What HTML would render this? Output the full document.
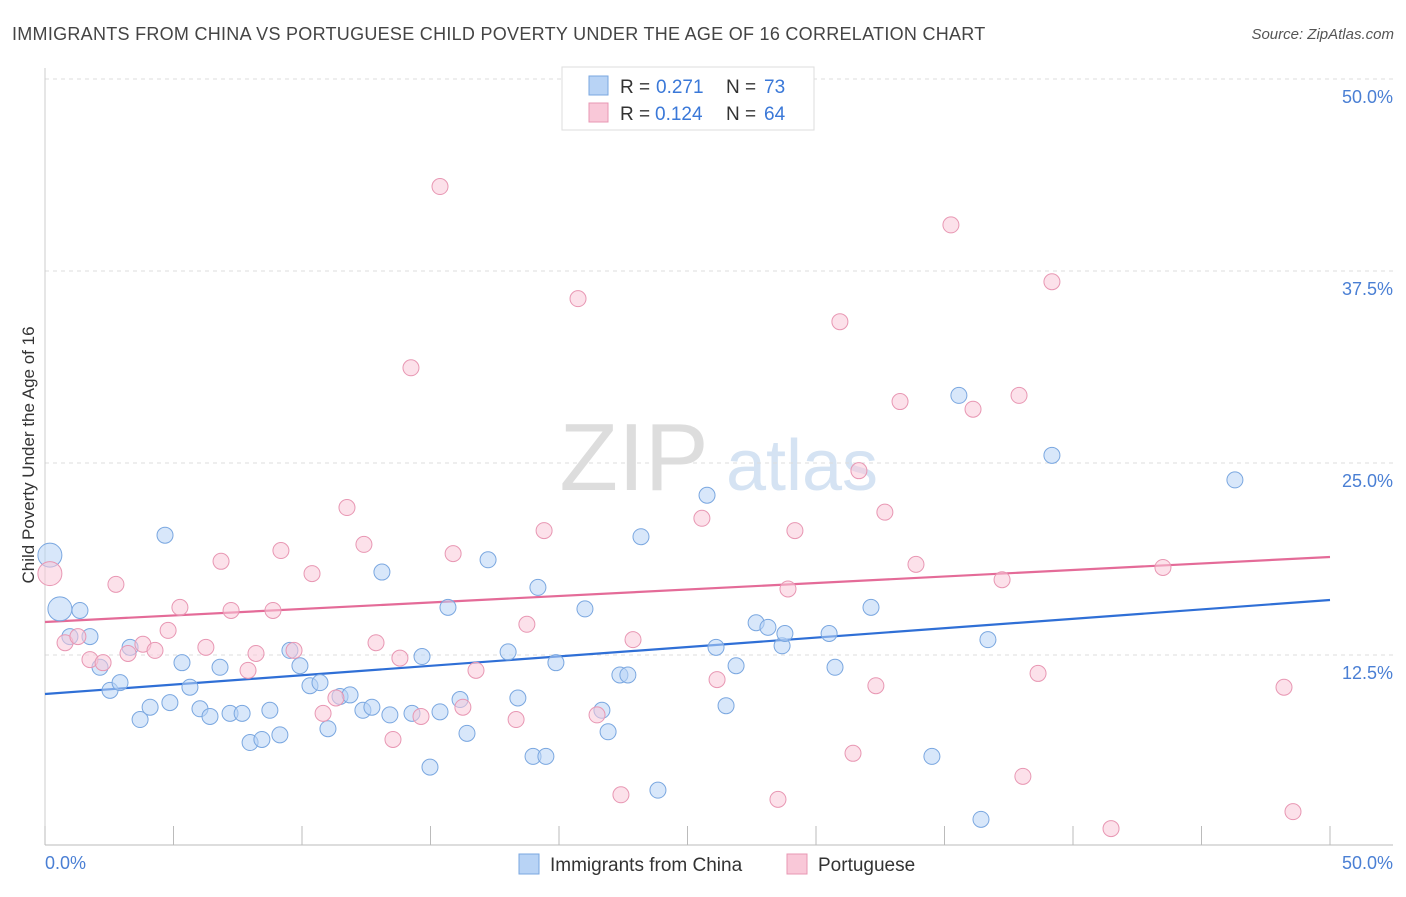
<!DOCTYPE html>
<html><head><meta charset="utf-8"><style>
body{margin:0;background:#fff;font-family:"Liberation Sans",sans-serif;}
svg text{font-family:"Liberation Sans",sans-serif;}
</style></head><body>
<svg id="chart" width="1406" height="892" xmlns="http://www.w3.org/2000/svg">
<text x="12" y="40" font-size="18" fill="#444" letter-spacing="0.28">IMMIGRANTS FROM CHINA VS PORTUGUESE CHILD POVERTY UNDER THE AGE OF 16 CORRELATION CHART</text>
<text x="1394" y="39" font-size="15" fill="#555" font-style="italic" text-anchor="end">Source: ZipAtlas.com</text>
<g>
<text x="634" y="490" font-size="96" fill="#ddd" font-family="Liberation Serif" text-anchor="middle">ZIP</text>
<text x="802" y="490" font-size="72" fill="#d5e3f3" text-anchor="middle">atlas</text>
</g>
<g id="grid"></g>
<g id="axes"></g>
<g id="trends"></g>
<g id="points"></g>
<text transform="translate(34,455) rotate(-90)" font-size="17" fill="#333" text-anchor="middle">Child Poverty Under the Age of 16</text>
<text x="45" y="869" font-size="18" fill="#4a7fd4">0.0%</text>
<text x="1393" y="869" font-size="18" fill="#4a7fd4" text-anchor="end">50.0%</text>
<g>
<rect x="562" y="67" width="252" height="63" fill="#fff" stroke="#ddd"/>
<rect x="589" y="76" width="19" height="19" fill="#b8d3f5" stroke="#7aa7e0"/>
<rect x="589" y="103" width="19" height="19" fill="#f9c8d8" stroke="#e897b3"/>
<text x="620" y="93" font-size="19" fill="#333">R =</text>
<text x="656" y="93" font-size="19" fill="#3a78d8">0.271</text>
<text x="726" y="93" font-size="19" fill="#333">N =</text>
<text x="764" y="93" font-size="19" fill="#3a78d8">73</text>
<text x="620" y="120" font-size="19" fill="#333">R =</text>
<text x="655" y="120" font-size="19" fill="#3a78d8">0.124</text>
<text x="726" y="120" font-size="19" fill="#333">N =</text>
<text x="764" y="120" font-size="19" fill="#3a78d8">64</text>
</g>
<g>
<rect x="519" y="854" width="20" height="20" fill="#b8d3f5" stroke="#7aa7e0"/>
<text x="550" y="871" font-size="19" fill="#333">Immigrants from China</text>
<rect x="787" y="854" width="20" height="20" fill="#f9c8d8" stroke="#e897b3"/>
<text x="818" y="871" font-size="19" fill="#333">Portuguese</text>
</g>
</svg>
<script>
const yTicks=[12.5,25,37.5,50];
const yTickLabels=["12.5%","25.0%","37.5%","50.0%"];
const xTicks=[0,5,10,15,20,25,30,35,40,45,50];
const chinaX=[0.19,0.58,1.36,0.97,1.75,2.14,2.53,2.92,3.31,3.70,4.09,4.67,4.86,5.33,5.64,6.03,6.42,6.81,7.20,7.67,7.98,8.44,8.75,9.14,9.53,9.92,10.31,10.70,11.01,11.48,11.87,12.37,12.72,13.11,13.42,14.28,14.67,14.98,15.37,15.68,16.15,16.42,17.24,18.02,18.40,18.99,19.18,19.49,19.88,21.01,21.67,21.91,22.37,22.68,23.19,23.85,25.76,26.11,26.50,26.89,27.67,28.13,28.68,28.79,30.51,30.74,32.14,34.51,35.56,36.42,36.69,39.18,46.30];
const chinaY=[19.0,15.5,15.4,13.7,13.7,11.7,10.2,10.7,13.0,8.3,9.1,20.3,9.4,12.0,10.4,9.0,8.5,11.7,8.7,8.7,6.8,7.0,8.9,7.3,12.8,11.8,10.5,10.7,7.7,9.8,9.9,8.9,9.1,17.9,8.6,8.7,12.4,5.2,8.8,15.6,9.6,7.4,18.7,12.7,9.7,5.9,16.9,5.9,12.0,15.5,8.9,7.5,11.2,11.2,20.2,3.7,22.9,13.0,9.2,11.8,14.6,14.3,13.1,13.9,13.9,11.7,15.6,5.9,29.4,1.8,13.5,25.5,23.9];
const portX=[0.19,0.78,1.28,1.75,2.26,2.76,3.23,3.81,4.28,4.79,5.25,6.26,6.85,7.24,7.90,8.21,8.87,9.18,9.69,10.39,10.82,11.32,11.75,12.41,12.88,13.54,13.81,14.24,14.63,15.37,15.88,16.26,16.77,18.33,18.75,19.42,20.74,21.48,22.41,22.88,25.56,26.15,28.52,28.91,29.18,30.93,31.44,31.67,32.33,32.68,33.27,33.89,35.25,36.11,37.24,37.90,38.05,38.64,39.18,41.48,43.50,48.21,48.56];
const portY=[17.8,13.3,13.7,12.2,12.0,17.1,12.6,13.2,12.8,14.1,15.6,13.0,18.6,15.4,11.5,12.6,15.4,19.3,12.8,17.8,8.7,9.7,22.1,19.7,13.3,7.0,12.3,31.2,8.5,43.0,19.1,9.1,11.5,8.3,14.5,20.6,35.7,8.6,3.4,13.5,21.4,10.9,3.1,16.8,20.6,34.2,6.1,24.5,10.5,21.8,29.0,18.4,40.5,28.5,17.4,29.4,4.6,11.3,36.8,1.2,18.2,10.4,2.3];
const chinaTrend=[9.96,16.08];
const portTrend=[14.65,18.88];
const NS="http://www.w3.org/2000/svg";
const X=v=>45+v*25.7, Y=v=>847-v*15.36;
function mk(t,a,p){const e=document.createElementNS(NS,t);for(const k in a)e.setAttribute(k,a[k]);p.appendChild(e);return e;}
const grid=document.getElementById('grid'),axes=document.getElementById('axes'),tr=document.getElementById('trends'),pts=document.getElementById('points');
yTicks.forEach((t,i)=>{
 const l=mk('line',{x1:45,x2:1393,y1:Y(t),y2:Y(t),stroke:'#ddd','stroke-dasharray':'4,4'},grid);
 
 
 const tx=mk('text',{x:1393,y:Y(t)+24,'font-size':18,fill:'#4a7fd4','text-anchor':'end'},grid);
 tx.textContent=yTickLabels[i];
 
 
});
const ax=mk('line',{x1:45,x2:1393,y1:845,y2:845,stroke:'#bbb'},axes);


const ay=mk('line',{x1:45,x2:45,y1:68,y2:845,stroke:'#ccc'},axes);


xTicks.forEach(t=>{const l=mk('line',{x1:X(t),x2:X(t),y1:826,y2:845,stroke:'#bbb'},axes);
 
 });
function dots(xs,ys,fill,stroke,name,big){xs.forEach((x,i)=>{const r=i<big?12:8;
 const c=mk('circle',{cx:X(x),cy:Y(ys[i]),r:r,fill:fill,stroke:stroke,'stroke-width':1,'fill-opacity':0.55},pts);
 
 });}
dots(chinaX,chinaY,'#b8d3f5','#7aa7e0','china-point',2);
dots(portX,portY,'#f9c8d8','#e897b3','portuguese-point',1);
const t1=mk('line',{x1:X(0),x2:X(50),y1:Y(chinaTrend[0]),y2:Y(chinaTrend[1]),stroke:'#2f6fd6','stroke-width':2.2},tr);


const t2=mk('line',{x1:X(0),x2:X(50),y1:Y(portTrend[0]),y2:Y(portTrend[1]),stroke:'#e46b98','stroke-width':2.2},tr);


</script>
</body></html>
